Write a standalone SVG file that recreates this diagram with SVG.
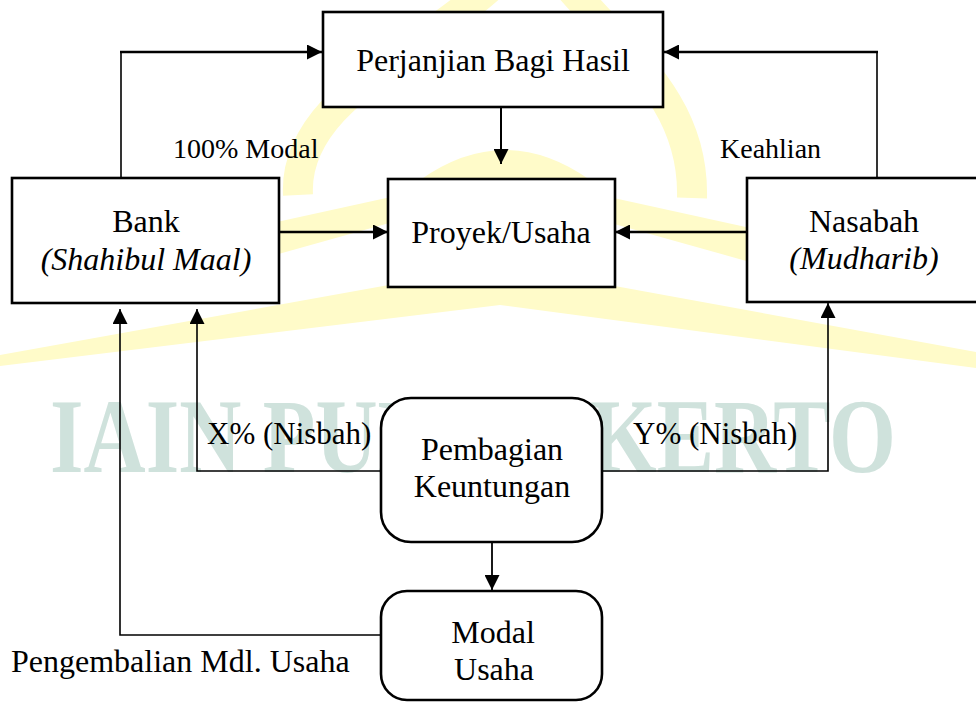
<svg xmlns="http://www.w3.org/2000/svg" width="976" height="703" viewBox="0 0 976 703">
<style>
.wm{fill:#fffbc9;}
.box{fill:#fff;stroke:#000;stroke-width:2.6;}
.c{fill:none;stroke:#000;}
</style>
<defs>
<marker id="ah" markerUnits="userSpaceOnUse" markerWidth="15" markerHeight="15" refX="15" refY="7.5" orient="auto" viewBox="0 0 15 15">
<path d="M0,0 L15,7.5 L0,15 z" fill="#000"/>
</marker>
</defs>
<rect width="976" height="703" fill="#fff"/>
<g id="watermark">
<path class="wm" d="M0,355 L500,265 L976,352 L976,368 L500,305 L0,366 Z"/>
<path class="wm" d="M600,195 L850,250 L850,290 L600,220 Z"/>
<path class="wm" d="M400,195 L150,250 L150,290 L400,220 Z"/>
<path d="M298,195 C292,85 465,40 533,-60 C600,40 695,85 692,198" fill="none" stroke="#fffbc9" stroke-width="30"/>
<path class="wm" d="M420,180 Q505,120 590,180 Z"/>
<text x="50" y="472" font-family="Liberation Serif, serif" font-weight="bold" font-size="106" fill="#cfe2dc" textLength="846" lengthAdjust="spacingAndGlyphs">IAIN PURWOKERTO</text>
</g>
<g id="connectors">
<path class="c" stroke-width="1.6" d="M121,178 V52"/>
<path class="c" stroke-width="2.6" d="M120,52 H322" marker-end="url(#ah)"/>
<path class="c" stroke-width="1.6" d="M877,178 V52"/>
<path class="c" stroke-width="2.6" d="M878,52 H664" marker-end="url(#ah)"/>
<path class="c" stroke-width="2" d="M501,107 V164" marker-end="url(#ah)"/>
<path class="c" stroke-width="2.6" d="M279,232 H388" marker-end="url(#ah)"/>
<path class="c" stroke-width="2.6" d="M747,232 H615" marker-end="url(#ah)"/>
<path class="c" stroke-width="1.6" d="M381,471 H197 V309" marker-end="url(#ah)"/>
<path class="c" stroke-width="1.6" d="M602,471 H828 V303" marker-end="url(#ah)"/>
<path class="c" stroke-width="1.8" d="M492,542 V590" marker-end="url(#ah)"/>
<path class="c" stroke-width="1.6" d="M381,635 H120 V309" marker-end="url(#ah)"/>
</g>
<g id="perjanjian">
<rect class="box" x="323" y="12" width="340" height="95"/>
<text font-family="Liberation Serif, serif" font-size="32" text-anchor="middle" x="493" y="71">Perjanjian Bagi Hasil</text>
</g>
<g id="bank">
<rect class="box" x="12" y="178" width="267" height="125"/>
<text font-family="Liberation Serif, serif" font-size="32" text-anchor="middle" x="146" y="232">Bank</text>
<text font-family="Liberation Serif, serif" font-size="32" text-anchor="middle" font-style="italic" x="146" y="270">(Shahibul Maal)</text>
</g>
<g id="proyek">
<rect class="box" x="388" y="179" width="227" height="108"/>
<text font-family="Liberation Serif, serif" font-size="32" text-anchor="middle" x="501" y="243">Proyek/Usaha</text>
</g>
<g id="nasabah">
<rect class="box" x="747" y="178" width="240" height="124"/>
<text font-family="Liberation Serif, serif" font-size="32" text-anchor="middle" x="864" y="232">Nasabah</text>
<text font-family="Liberation Serif, serif" font-size="32" text-anchor="middle" font-style="italic" x="864" y="269">(Mudharib)</text>
</g>
<g id="pembagian">
<rect class="box" x="381" y="398" width="221" height="144" rx="30" ry="30"/>
<text font-family="Liberation Serif, serif" font-size="32" text-anchor="middle" x="492" y="460">Pembagian</text>
<text font-family="Liberation Serif, serif" font-size="32" text-anchor="middle" x="492" y="497">Keuntungan</text>
</g>
<g id="modal">
<rect class="box" x="381" y="591" width="221" height="109" rx="26" ry="26"/>
<text font-family="Liberation Serif, serif" font-size="32" text-anchor="middle" x="493" y="643">Modal</text>
<text font-family="Liberation Serif, serif" font-size="32" text-anchor="middle" x="494" y="680">Usaha</text>
</g>
<g id="labels">
<text font-family="Liberation Serif, serif" font-size="28" x="173" y="158">100% Modal</text>
<text font-family="Liberation Serif, serif" font-size="28" x="720" y="158">Keahlian</text>
<text font-family="Liberation Serif, serif" font-size="31" x="207" y="444">X% (Nisbah)</text>
<text font-family="Liberation Serif, serif" font-size="31" x="633" y="444">Y% (Nisbah)</text>
<text font-family="Liberation Serif, serif" font-size="32" x="11" y="672">Pengembalian Mdl. Usaha</text>
</g>
</svg>
